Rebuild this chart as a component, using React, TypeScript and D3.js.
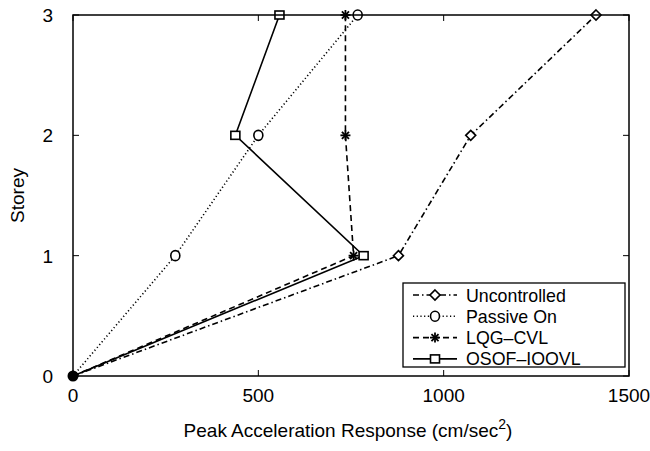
import React from "react";
import * as d3 from "d3";

const storeys = [0, 1, 2, 3];
const uncontrolled = [0, 878, 1073, 1411];
const passiveOn = [0, 276, 500, 768];
const lqgCvl = [0, 757, 735, 735];
const osofIoovl = [0, 784, 438, 557];
const xTicks = [0, 500, 1000, 1500];
const yTicks = [0, 1, 2, 3];

type Marker = "diamond" | "circle" | "star" | "square";
const seriesList: { name: string; values: number[]; dash: string; marker: Marker }[] = [
  { name: "Uncontrolled", values: uncontrolled, dash: "6 3 1.5 3", marker: "diamond" },
  { name: "Passive On", values: passiveOn, dash: "1.2 2.5", marker: "circle" },
  { name: "LQG\u2013CVL", values: lqgCvl, dash: "6 4", marker: "star" },
  { name: "OSOF\u2013IOOVL", values: osofIoovl, dash: "", marker: "square" },
];

const W = 650, H = 451;
const L = 73, R = 629, T = 15, B = 376;
const FONT = "Liberation Sans, Arial, Helvetica, sans-serif";

function MarkerShape({ type, cx, cy }: { type: Marker; cx: number; cy: number }) {
  const s = { fill: "white", stroke: "black", strokeWidth: 1.6 };
  if (type === "diamond") {
    const r = 5;
    return <path d={`M${cx},${cy - r}L${cx + r},${cy}L${cx},${cy + r}L${cx - r},${cy}Z`} {...s} />;
  }
  if (type === "circle") return <ellipse cx={cx} cy={cy} rx={4.5} ry={5} {...s} />;
  if (type === "square") return <rect x={cx - 4.5} y={cy - 4} width={9} height={8} {...s} />;
  const r = 5;
  const lines = [0, 45, 90, 135].map((a) => {
    const rad = (a * Math.PI) / 180;
    return (
      <line key={a} x1={cx - r * Math.cos(rad)} y1={cy - r * Math.sin(rad)} x2={cx + r * Math.cos(rad)} y2={cy + r * Math.sin(rad)} stroke="black" strokeWidth={1.8} />
    );
  });
  return <g>{lines}</g>;
}

export default function App() {
  const x = d3.scaleLinear().domain([0, 1500]).range([L, R]);
  const y = d3.scaleLinear().domain([0, 3]).range([B, T]);
  const line = d3.line<number>().x((d) => x(d)).y((_, i) => y(storeys[i]));

  const legX = 403, legY = 283, legW = 222, legH = 84;
  const rowH = 21.3;

  return (
    <svg width={W} height={H} style={{ position: "absolute", left: 0, top: 0, background: "white" }} fontFamily={FONT}>
      <rect x={0} y={0} width={W} height={H} fill="white" />
      {xTicks.map((t) => (
        <g key={"xt" + t}>
          <line x1={x(t)} x2={x(t)} y1={B} y2={B - 6} stroke="black" strokeWidth={1} />
          <line x1={x(t)} x2={x(t)} y1={T} y2={T + 6} stroke="black" strokeWidth={1} />
          <text x={x(t)} y={B + 26} textAnchor="middle" fontSize={19}>{t}</text>
        </g>
      ))}
      {yTicks.map((t) => (
        <g key={"yt" + t}>
          <line x1={L} x2={L + 6} y1={y(t)} y2={y(t)} stroke="black" strokeWidth={1} />
          <line x1={R} x2={R - 6} y1={y(t)} y2={y(t)} stroke="black" strokeWidth={1} />
          <text x={L - 20} y={y(t) + 7} textAnchor="end" fontSize={19}>{t}</text>
        </g>
      ))}
      {seriesList.map((s) => (
        <path key={s.name} d={line(s.values) || ""} fill="none" stroke="black" strokeWidth={1.6} strokeDasharray={s.dash} />
      ))}
      {seriesList.map((s) => (
        <g key={s.name + "m"}>
          {s.values.map((v, i) => (i > 0 ? <MarkerShape key={i} type={s.marker} cx={x(v)} cy={y(storeys[i])} /> : null))}
        </g>
      ))}
      <circle cx={x(0)} cy={y(0)} r={5.5} fill="black" />
      <rect x={L} y={T} width={R - L} height={B - T} fill="none" stroke="black" strokeWidth={1.5} />
      <rect x={legX} y={legY} width={legW} height={legH} fill="white" stroke="black" strokeWidth={1.3} />
      {seriesList.map((s, i) => {
        const cy = legY + 12 + i * rowH;
        return (
          <g key={s.name + "leg"}>
            <line x1={legX + 10} x2={legX + 54} y1={cy} y2={cy} stroke="black" strokeWidth={1.6} strokeDasharray={s.dash} />
            <MarkerShape type={s.marker} cx={legX + 32} cy={cy} />
            <text x={legX + 63} y={cy + 6.5} fontSize={17.8}>{s.name}</text>
          </g>
        );
      })}
      <text x={348} y={437} textAnchor="middle" fontSize={19}>
        Peak Acceleration Response (cm/sec<tspan dy={-8} fontSize={14}>2</tspan><tspan dy={8}>)</tspan>
      </text>
      <text transform={`translate(24,${(T + B) / 2}) rotate(-90)`} textAnchor="middle" fontSize={19}>Storey</text>
    </svg>
  );
}
